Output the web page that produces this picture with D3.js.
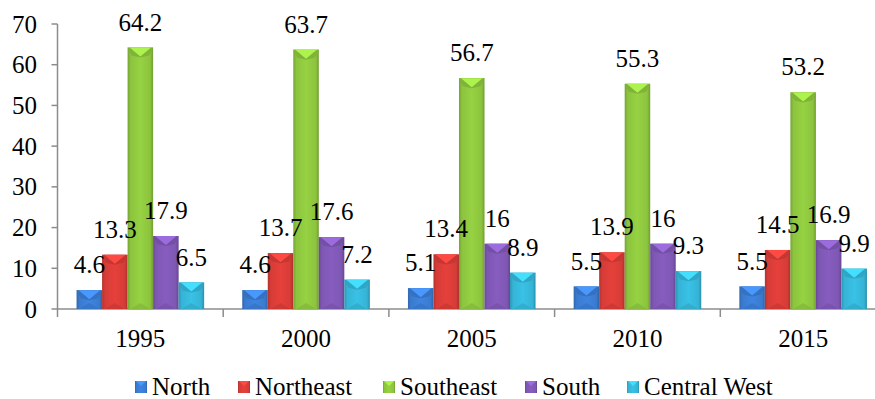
<!DOCTYPE html>
<html>
<head>
<meta charset="utf-8">
<script src="https://cdn.jsdelivr.net/npm/d3@7"></script>
<style>
  body { margin: 0; background: #fff; font-family: "Times New Roman", "Liberation Serif", Tinos, serif; }
</style>
</head>
<body>
<script>
// data
const years = ["1995", "2000", "2005", "2010", "2015"];
const regions = ["North", "Northeast", "Southeast", "South", "Central West"];
const north = [4.6, 4.6, 5.1, 5.5, 5.5];
const northeast = [13.3, 13.7, 13.4, 13.9, 14.5];
const southeast = [64.2, 63.7, 56.7, 55.3, 53.2];
const south = [17.9, 17.6, 16, 16, 16.9];
const centralWest = [6.5, 7.2, 8.9, 9.3, 9.9];
const yTicks = [0, 10, 20, 30, 40, 50, 60, 70];

const seriesValues = [north, northeast, southeast, south, centralWest];
const colors = ["#3a7bd0", "#d63c37", "#8cc43e", "#7e57b3", "#35b4d6"];

const width = 875, height = 399;
const left = 57.5, bottom = 309;
// legend item offsets (layout)
const legendX = [135, 238, 383, 525, 627];

const svg = d3.select("body").append("svg")
    .attr("width", width)
    .attr("height", height);

const x = d3.scaleBand()
    .domain(years)
    .range([left, left + 5 * 165.7])
    .paddingInner(0.23)
    .paddingOuter(0.115);

const xs = d3.scaleBand()
    .domain(regions)
    .range([0, x.bandwidth()]);

const y = d3.scaleLinear()
    .domain([0, 70])
    .range([bottom, 24]);

// gradients for bevel look
const defs = svg.append("defs");
regions.forEach((r, i) => {
  const c = d3.color(colors[i]);
  const g = defs.append("linearGradient")
      .attr("id", "g" + i)
      .attr("x1", 0).attr("x2", 1).attr("y1", 0).attr("y2", 0);
  g.append("stop").attr("offset", "0%").attr("stop-color", c.darker(0.5));
  g.append("stop").attr("offset", "12%").attr("stop-color", c);
  g.append("stop").attr("offset", "50%").attr("stop-color", c.brighter(0.2));
  g.append("stop").attr("offset", "88%").attr("stop-color", c);
  g.append("stop").attr("offset", "100%").attr("stop-color", c.darker(0.6));
});

function label(sel) {
  sel.style("font-family", "\"Times New Roman\"").style("font-size", "25px");
}

// axes
svg.append("line")
    .attr("x1", left).attr("x2", width)
    .attr("y1", bottom).attr("y2", bottom)
    .attr("stroke", "#8c8c8c").attr("stroke-width", 1.5);
svg.append("line")
    .attr("x1", left).attr("x2", left)
    .attr("y1", y(70)).attr("y2", bottom + 8)
    .attr("stroke", "#8c8c8c").attr("stroke-width", 1.5);

svg.selectAll(".ytick")
  .data(yTicks)
  .enter().append("line")
    .attr("x1", left - 6).attr("x2", left)
    .attr("y1", d => y(d)).attr("y2", d => y(d))
    .attr("stroke", "#8c8c8c").attr("stroke-width", 1.5);

svg.selectAll(".ylab")
  .data(yTicks)
  .enter().append("text")
    .attr("x", 37)
    .attr("y", d => y(d) + 8.5)
    .attr("text-anchor", "end")
    .call(label)
    .text(d => d);

svg.selectAll(".xtick")
  .data(years.slice(1))
  .enter().append("line")
    .attr("x1", d => x(d) - x.step() * x.paddingInner() / 2)
    .attr("x2", d => x(d) - x.step() * x.paddingInner() / 2)
    .attr("y1", bottom).attr("y2", bottom + 8)
    .attr("stroke", "#8c8c8c").attr("stroke-width", 1.5);

svg.selectAll(".xlab")
  .data(years)
  .enter().append("text")
    .attr("x", d => x(d) + x.bandwidth() / 2)
    .attr("y", 347)
    .attr("text-anchor", "middle")
    .call(label)
    .text(d => d);

// bars
const bars = [];
years.forEach((yr, j) => {
  regions.forEach((r, i) => {
    bars.push({year: yr, region: r, i: i, value: seriesValues[i][j]});
  });
});

const g = svg.selectAll(".bar")
  .data(bars)
  .enter().append("g")
    .attr("class", "bar");

g.append("rect")
    .attr("x", d => x(d.year) + xs(d.region))
    .attr("y", d => y(d.value))
    .attr("width", xs.bandwidth())
    .attr("height", d => bottom - y(d.value))
    .attr("fill", d => "url(#g" + d.i + ")");

// top bevel: lighter down-pointing triangle
g.append("path")
    .attr("d", d => {
      const x0 = x(d.year) + xs(d.region), w = xs.bandwidth();
      const t = y(d.value), b = Math.min(8, (bottom - t) / 2);
      return "M" + x0 + "," + t + "L" + (x0 + w) + "," + t +
             "L" + (x0 + w - 4) + "," + (t + b) + "L" + (x0 + w / 2) + "," + (t + b + 2) +
             "L" + (x0 + 4) + "," + (t + b) + "Z";
    })
    .attr("fill", d => d3.color(colors[d.i]).darker(0.25));
g.append("path")
    .attr("d", d => {
      const x0 = x(d.year) + xs(d.region), w = xs.bandwidth();
      const t = y(d.value), b = Math.min(8, (bottom - t) / 2);
      return "M" + (x0 + 2) + "," + t + "L" + (x0 + w - 2) + "," + t +
             "L" + (x0 + w / 2) + "," + (t + b + 1) + "Z";
    })
    .attr("fill", d => d3.color(colors[d.i]).brighter(0.6));
// bottom bevel: faint up triangle
g.append("path")
    .attr("d", d => {
      const x0 = x(d.year) + xs(d.region), w = xs.bandwidth();
      const t = y(d.value), b = Math.min(6, (bottom - t) / 3);
      return "M" + (x0 + 3) + "," + bottom + "L" + (x0 + w - 3) + "," + bottom +
             "L" + (x0 + w / 2) + "," + (bottom - b) + "Z";
    })
    .attr("fill", d => d3.color(colors[d.i]).darker(0.3))
    .attr("opacity", 0.6);

// value labels
svg.selectAll(".vlab")
  .data(bars)
  .enter().append("text")
    .attr("x", d => x(d.year) + xs(d.region) + xs.bandwidth() / 2)
    .attr("y", d => y(d.value) - 17)
    .attr("text-anchor", "middle")
    .call(label)
    .text(d => d.value);

// legend
const item = svg.selectAll(".legend")
  .data(regions)
  .enter().append("g")
    .attr("class", "legend")
    .attr("transform", (d, i) => "translate(" + legendX[i] + ",387)");
item.append("rect")
    .attr("x", 0).attr("y", -6)
    .attr("width", 12).attr("height", 12)
    .attr("fill", (d, i) => "url(#g" + i + ")");
item.append("path")
    .attr("d", "M1,-6L11,-6L6,-1Z")
    .attr("fill", (d, i) => d3.color(colors[i]).brighter(0.6));
item.append("text")
    .attr("x", 17).attr("y", 8)
    .call(label)
    .text(d => d);
</script>
</body>
</html>
